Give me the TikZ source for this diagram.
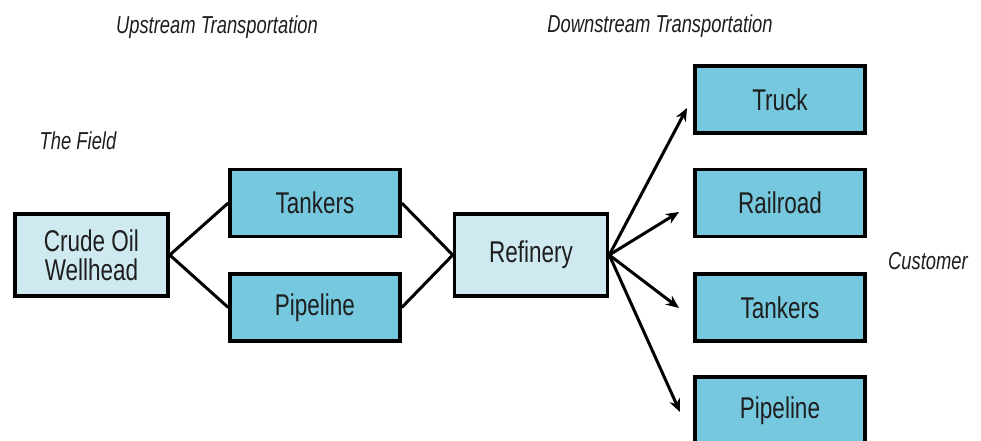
\documentclass[tikz,border=0pt]{standalone}
\usepackage{fontspec}
\setmainfont[FakeStretch=0.75]{Liberation Sans}
\usetikzlibrary{arrows.meta}
\definecolor{boxlight}{RGB}{206,233,239}
\definecolor{boxdark}{RGB}{118,200,222}
\definecolor{inkgray}{RGB}{30,30,30}
\tikzset{
  stagebox/.style={draw=black, line width=3.5pt, inner sep=0pt,
    minimum width=170pt, minimum height=67pt, text=inkgray,
    font=\fontsize{30}{29}\selectfont, align=center},
  lightbox/.style={stagebox, fill=boxlight, minimum width=153pt, minimum height=82pt},
  darkbox/.style={stagebox, fill=boxdark},
  heading/.style={font=\fontsize{24.5}{26}\selectfont\itshape, text=inkgray, inner sep=0pt},
  link/.style={line width=3pt, black},
  flow/.style={link, -{Stealth[length=13pt,width=11pt]}}
}
\begin{document}
\begin{tikzpicture}[x=1pt,y=-1pt]
  \useasboundingbox (0,0) rectangle (981,441);
  \clip (0,0) rectangle (981,441);

  % headings
  \node[heading] (up)   at (217,27)  {Upstream Transportation};
  \node[heading] (down) at (660,26)  {Downstream Transportation};
  \node[heading] (field) at (78,141) {The Field};
  \node[heading] (cust) at (928,261) {Customer};

  % upstream stages
  \node[lightbox] (well) at (91.5,255) {Crude Oil\\Wellhead};
  \node[darkbox] (tankA) at (315,203) {Tankers};
  \node[darkbox] (pipeA) at (315,307.5) {Pipeline};
  \node[lightbox] (ref) at (531,255) {Refinery};

  % downstream modes
  \node[darkbox] (truck) at (780,99.5) {Truck};
  \node[darkbox] (rail)  at (780,203) {Railroad};
  \node[darkbox] (tankB) at (780,307.5) {Tankers};
  \node[darkbox] (pipeB) at (780,410.5) {Pipeline};

  % upstream links
  \draw[link] (tankA.west) -- (well.east) -- (pipeA.west);
  \draw[link] (tankA.east) -- (ref.west) -- (pipeA.east);

  % downstream arrows
  \coordinate (tipTruck) at (687,108);
  \coordinate (tipRail)  at (679,212);
  \coordinate (tipTank)  at (679,308);
  \coordinate (tipPipe)  at (680,412);
  \draw[flow] (ref.east) -- (tipTruck);
  \draw[flow] (ref.east) -- (tipRail);
  \draw[flow] (ref.east) -- (tipTank);
  \draw[flow] (ref.east) -- (tipPipe);
\end{tikzpicture}
\end{document}
